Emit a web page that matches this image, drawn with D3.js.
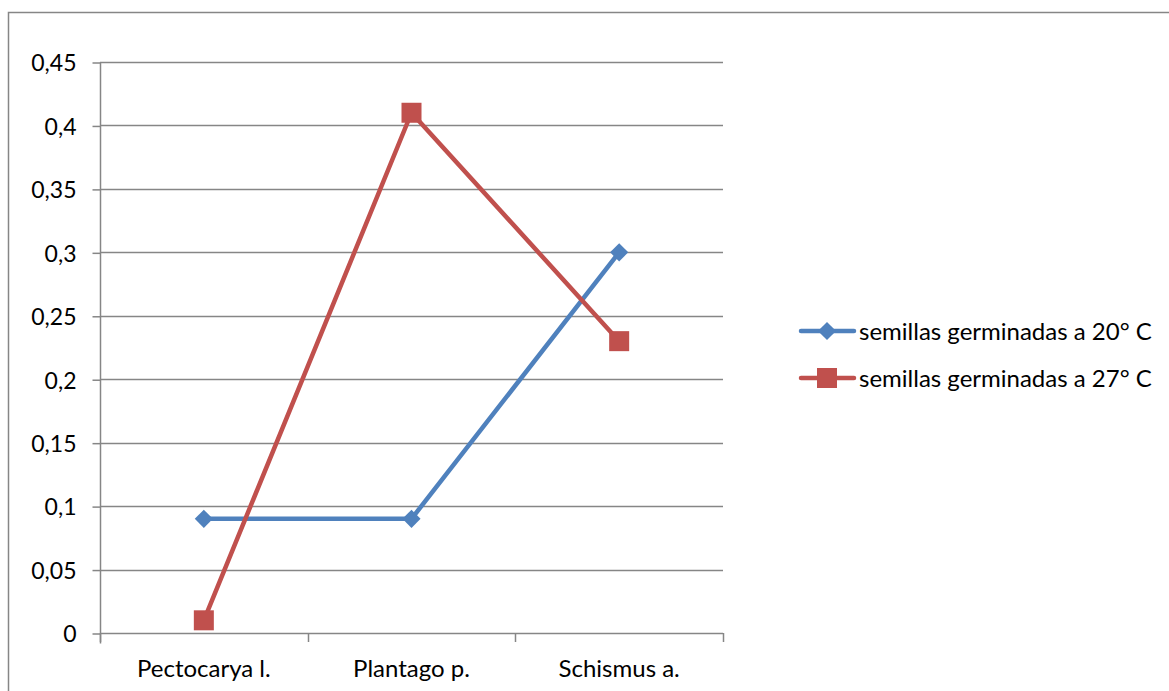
<!DOCTYPE html>
<html>
<head>
<meta charset="utf-8">
<script src="https://cdn.jsdelivr.net/npm/d3@7"></script>
<style>
  html, body { margin: 0; padding: 0; background: #fff; }
  svg { display: block; }
  text { font-family: Lato, "Open Sans", sans-serif; fill: #000; }
</style>
</head>
<body>
<svg id="chart" width="1169" height="691"></svg>
<script>
// Species on the x axis
const categories = ["Pectocarya l.", "Plantago p.", "Schismus a."];
// Germinated seed fractions at each temperature
const series20 = [0.09, 0.09, 0.30];
const series27 = [0.01, 0.41, 0.23];
const seriesNames = ["semillas germinadas a 20° C", "semillas germinadas a 27° C"];
const yTicks = [0, 0.05, 0.1, 0.15, 0.2, 0.25, 0.3, 0.35, 0.4, 0.45];

const svg = d3.select("#chart");
const W = 1169, H = 691;
const plot = { left: 100, right: 723, top: 62, bottom: 633 };
const gridColor = "#868686";
const colors = ["#4F81BD", "#C0504D"];

// outer chart frame (runs past the right and bottom edges)
svg.append("rect")
  .attr("x", 8.5).attr("y", 12.5)
  .attr("width", W).attr("height", H)
  .attr("fill", "none").attr("stroke", gridColor).attr("stroke-width", 1.5);

const x = d3.scaleBand().domain(categories).range([plot.left, plot.right]);
const y = d3.scaleLinear().domain([0, 0.45]).range([plot.bottom, plot.top]);
const fmt = d => String(d).replace(".", ",");

// horizontal gridlines
svg.append("g").selectAll("line").data(yTicks.filter(d => d > 0)).join("line")
  .attr("x1", plot.left).attr("x2", plot.right)
  .attr("y1", d => Math.round(y(d)) + 0.5).attr("y2", d => Math.round(y(d)) + 0.5)
  .attr("stroke", gridColor).attr("stroke-width", 1.5);

// y axis
const yAxis = svg.append("g")
  .attr("transform", `translate(${plot.left + 0.5},0.5)`)
  .call(d3.axisLeft(y).tickValues(yTicks).tickFormat(fmt).tickSize(8).tickPadding(16));
yAxis.select(".domain").attr("stroke", gridColor).attr("stroke-width", 1.5)
  .attr("d", `M0,${y(0.45)}V${y(0) + 10}`);
yAxis.selectAll(".tick line").attr("stroke", gridColor).attr("stroke-width", 1.5);
yAxis.selectAll(".tick text").attr("font-size", 23).attr("dy", "0.36em")
  .style("font-family", "Lato, 'Open Sans', sans-serif");

// x axis with ticks on category boundaries
const bounds = [0, 1, 2, 3].map(i => plot.left + i * x.step());
const xg = svg.append("g");
xg.append("line")
  .attr("x1", plot.left).attr("x2", plot.right)
  .attr("y1", plot.bottom + 0.5).attr("y2", plot.bottom + 0.5)
  .attr("stroke", gridColor).attr("stroke-width", 1.5);
xg.selectAll("line.tk").data(bounds).join("line").attr("class", "tk")
  .attr("x1", d => Math.round(d) + 0.5).attr("x2", d => Math.round(d) + 0.5)
  .attr("y1", plot.bottom).attr("y2", plot.bottom + 9)
  .attr("stroke", gridColor).attr("stroke-width", 1.5);
xg.selectAll("text").data(categories).join("text")
  .attr("x", d => x(d) + x.bandwidth() / 2)
  .attr("y", 677)
  .attr("text-anchor", "middle")
  .attr("font-size", 24)
  .text(d => d);

const cx = d => x(d) + x.bandwidth() / 2;
const line = d3.line().x((d, i) => cx(categories[i])).y(d => y(d));

const allSeries = [series20, series27];
allSeries.forEach((vals, s) => {
  svg.append("path").datum(vals)
    .attr("d", line).attr("fill", "none")
    .attr("stroke", colors[s]).attr("stroke-width", 4.5)
    .attr("stroke-linejoin", "round");
});

const diamond = d3.symbol().type(d3.symbolSquare).size(165);
function marker(g, s) {
  if (s === 0) {
    g.append("path").attr("d", diamond()).attr("transform", "rotate(45)")
      .attr("fill", colors[0]);
  } else {
    g.append("rect").attr("x", -10).attr("y", -10).attr("width", 20).attr("height", 20)
      .attr("fill", colors[1]);
  }
}
allSeries.forEach((vals, s) => {
  vals.forEach((v, i) => {
    const g = svg.append("g").attr("transform", `translate(${cx(categories[i])},${y(v)})`);
    marker(g, s);
  });
});

// legend
const legendY = [331, 378];
seriesNames.forEach((name, s) => {
  const g = svg.append("g").attr("transform", `translate(0,${legendY[s]})`);
  g.append("line").attr("x1", 801).attr("x2", 854).attr("y1", 0).attr("y2", 0)
    .attr("stroke", colors[s]).attr("stroke-width", 4.5).attr("stroke-linecap", "round");
  const m = g.append("g").attr("transform", "translate(827,0)");
  marker(m, s);
  g.append("text").attr("x", 859).attr("y", 0).attr("dy", "0.36em")
    .attr("font-size", 24).text(name);
});
</script>
</body>
</html>
